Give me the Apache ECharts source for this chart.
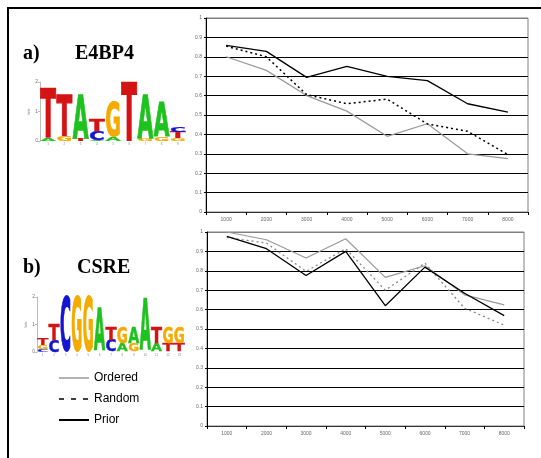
<!DOCTYPE html>
<html>
<head>
<meta charset="utf-8">
<script src="https://cdn.jsdelivr.net/npm/echarts@6/dist/echarts.min.js"></script>
<style>
  html, body { margin: 0; padding: 0; background: #fff; }
  #chart { width: 541px; height: 458px; }
</style>
</head>
<body>
<div id="chart"></div>
<script>
// x categories (library sizes)
const sizes = ['1000', '2000', '3000', '4000', '5000', '6000', '7000', '8000'];

// a) E4BP4
const e4bp4Ordered = [0.80, 0.73, 0.60, 0.52, 0.39, 0.455, 0.30, 0.275];
const e4bp4Random = [0.855, 0.80, 0.605, 0.558, 0.582, 0.454, 0.416, 0.296];
const e4bp4Prior = [0.859, 0.828, 0.694, 0.751, 0.699, 0.677, 0.558, 0.515];

// b) CSRE
const csreOrdered = [1.0, 0.96, 0.866, 0.965, 0.766, 0.826, 0.676, 0.624];
const csreRandom = [0.972, 0.943, 0.797, 0.914, 0.70, 0.84, 0.607, 0.52];
const csrePrior = [0.978, 0.914, 0.776, 0.90, 0.62, 0.819, 0.684, 0.569];

// sequence logos: [column, bottom bits, top bits, letter]
const e4bp4Cols = ['1', '2', '3', '4', '5', '6', '7', '8', '9'];
const e4bp4Logo = [
  [0, 0, 0.1, 'A'], [0, 0.1, 1.73, 'T'],
  [1, 0, 0.17, 'G'], [1, 0.17, 1.53, 'T'],
  [2, 0, 0.1, 'T'], [2, 0.1, 1.53, 'A'],
  [3, 0, 0.04, 'A'], [3, 0.04, 0.34, 'C'], [3, 0.34, 0.71, 'T'],
  [4, 0, 0.14, 'A'], [4, 0.14, 1.29, 'G'],
  [5, 0.02, 1.96, 'T'],
  [6, 0, 0.08, 'G'], [6, 0.08, 1.53, 'A'],
  [7, 0, 0.14, 'G'], [7, 0.14, 1.29, 'A'],
  [8, 0, 0.1, 'G'], [8, 0.1, 0.3, 'T'], [8, 0.3, 0.47, 'C']
];
const csreCols = ['1', '2', '3', '4', '5', '6', '7', '8', '9', '10', '11', '12', '13'];
const csreLogo = [
  [0, 0, 0.1, 'C'], [0, 0.1, 0.25, 'G'], [0, 0.25, 0.5, 'T'],
  [1, 0, 0.44, 'C'], [1, 0.44, 0.98, 'T'],
  [2, 0.03, 1.96, 'C'],
  [3, 0.03, 1.96, 'G'],
  [4, 0.04, 1.96, 'G'],
  [5, 0.07, 1.6, 'A'],
  [6, 0.04, 0.44, 'C'], [6, 0.44, 0.91, 'T'],
  [7, 0.04, 0.33, 'A'], [7, 0.33, 0.91, 'G'],
  [8, 0.04, 0.33, 'G'], [8, 0.33, 0.87, 'A'],
  [9, 0.08, 1.93, 'A'],
  [10, 0.04, 0.33, 'A'], [10, 0.33, 0.91, 'T'],
  [11, 0.04, 0.33, 'T'], [11, 0.33, 0.91, 'G'],
  [12, 0.04, 0.33, 'T'], [12, 0.33, 0.91, 'G']
];

const letterColor = { A: '#1ec21e', C: '#1414d2', G: '#f5aa00', T: '#d41414' };
// DejaVu Sans Bold advance widths (em)
const letterWidth = { A: 0.774, C: 0.734, G: 0.821, T: 0.682 };
const FS = 20;

function logoRender(logo) {
  return function (params, api) {
    const d = logo[params.dataIndex];
    const p0 = api.coord([d[0], d[1]]);
    const p1 = api.coord([d[0], d[2]]);
    const band = api.size([1, 0])[0];
    const h = p0[1] - p1[1];
    const sy = h / (0.729 * FS);
    return {
      type: 'text',
      x: p0[0],
      // cap centre sits a little above the text middle line
      y: (p0[1] + p1[1]) / 2 + 0.095 * FS * sy,
      scaleX: band * 0.97 / (letterWidth[d[3]] * FS),
      scaleY: sy,
      style: {
        text: d[3],
        font: 'bold ' + FS + 'px "DejaVu Sans"',
        align: 'center',
        verticalAlign: 'middle',
        fill: letterColor[d[3]],
        stroke: letterColor[d[3]],
        lineWidth: 0.5
      }
    };
  };
}

const gridLineColors = ['#000', '#000', '#000', '#000', '#000', '#000', '#000', '#000', '#000', '#000', '#808080'];

function chartX(gridIndex) {
  return {
    type: 'category', gridIndex: gridIndex, data: sizes, boundaryGap: true,
    axisLine: { lineStyle: { color: '#333', width: 1 } },
    axisTick: { show: true, length: 3, lineStyle: { color: '#000' } },
    axisLabel: { fontSize: 5, color: '#666', margin: 5, fontFamily: 'Liberation Sans' }
  };
}
function chartY(gridIndex) {
  return {
    type: 'value', gridIndex: gridIndex, min: 0, max: 1, interval: 0.1,
    axisLine: { show: true, lineStyle: { color: '#000', width: 1 } },
    axisTick: { show: true, length: 2, lineStyle: { color: '#000' } },
    axisLabel: { fontSize: 5, color: '#666', margin: 4, fontFamily: 'Liberation Sans' },
    splitLine: { show: true, lineStyle: { color: gridLineColors, width: 1 } }
  };
}
function logoX(gridIndex, cols) {
  return {
    type: 'category', gridIndex: gridIndex, data: cols, boundaryGap: true,
    axisLine: { show: false }, axisTick: { show: false },
    axisLabel: { fontSize: 3, color: '#888', margin: 2 }
  };
}
function logoY(gridIndex) {
  return {
    type: 'value', gridIndex: gridIndex, min: 0, max: 2, interval: 1,
    name: 'bits', nameLocation: 'middle', nameGap: 6,
    nameTextStyle: { fontSize: 4, color: '#777' },
    axisLine: { show: true, lineStyle: { color: '#bbb', width: 1 } },
    axisTick: { show: true, length: 2, lineStyle: { color: '#bbb' } },
    axisLabel: { fontSize: 5, color: '#777', margin: 2 },
    splitLine: { show: false }
  };
}

const titleFont = { fontFamily: 'Liberation Serif', fontWeight: 'bold', fontSize: 20, color: '#000' };

const chart = echarts.init(document.getElementById('chart'), null, { renderer: 'canvas' });

const option = {
  backgroundColor: '#fff',
  animation: false,
  title: [
    { text: 'a)', left: 23, top: 44, padding: 0, textStyle: titleFont },
    { text: 'E4BP4', left: 75, top: 44, padding: 0, textStyle: titleFont },
    { text: 'b)', left: 23, top: 258, padding: 0, textStyle: titleFont },
    { text: 'CSRE', left: 77, top: 258, padding: 0, textStyle: titleFont }
  ],
  legend: {
    orient: 'vertical', left: 58, top: 372, itemWidth: 30, itemHeight: 12, itemGap: 9, padding: 0,
    itemStyle: { opacity: 0 },
    textStyle: { fontSize: 12, color: '#000', fontFamily: 'Liberation Sans' },
    data: [
      { name: 'Ordered', lineStyle: { color: '#999', width: 1.5, type: 'solid' } },
      { name: 'Random', lineStyle: { color: '#000', width: 1.5, type: [5, 7] } },
      { name: 'Prior', lineStyle: { color: '#000', width: 2, type: 'solid' } }
    ]
  },
  graphic: [
    { type: 'rect', shape: { x: 8, y: 8, width: 700, height: 700 }, style: { fill: 'none', stroke: '#000', lineWidth: 2 }, silent: true }
  ],
  grid: [
    { left: 206, top: 18, width: 322, height: 194, show: true, borderColor: '#808080', borderWidth: 1 },
    { left: 207, top: 232, width: 317, height: 194, show: true, borderColor: '#808080', borderWidth: 1 },
    { left: 40, top: 82, width: 146, height: 59 },
    { left: 37, top: 297, width: 148, height: 55 }
  ],
  xAxis: [chartX(0), chartX(1), logoX(2, e4bp4Cols), logoX(3, csreCols)],
  yAxis: [chartY(0), chartY(1), logoY(2), logoY(3)],
  series: [
    { name: 'Ordered', type: 'line', xAxisIndex: 0, yAxisIndex: 0, data: e4bp4Ordered, symbol: 'none', lineStyle: { color: '#999', width: 1.2 }, itemStyle: { color: '#999' } },
    { name: 'Random', type: 'line', xAxisIndex: 0, yAxisIndex: 0, data: e4bp4Random, symbol: 'none', lineStyle: { color: '#000', width: 1.5, type: [2, 3] }, itemStyle: { color: '#000' } },
    { name: 'Prior', type: 'line', xAxisIndex: 0, yAxisIndex: 0, data: e4bp4Prior, symbol: 'none', lineStyle: { color: '#000', width: 1.3 }, itemStyle: { color: '#000' } },
    { name: 'Ordered', type: 'line', xAxisIndex: 1, yAxisIndex: 1, data: csreOrdered, symbol: 'none', lineStyle: { color: '#999', width: 1.2 }, itemStyle: { color: '#999' } },
    { name: 'Random', type: 'line', xAxisIndex: 1, yAxisIndex: 1, data: csreRandom, symbol: 'none', lineStyle: { color: '#888', width: 1.3, type: [2, 3] }, itemStyle: { color: '#888' } },
    { name: 'Prior', type: 'line', xAxisIndex: 1, yAxisIndex: 1, data: csrePrior, symbol: 'none', lineStyle: { color: '#000', width: 1.3 }, itemStyle: { color: '#000' } },
    { type: 'custom', xAxisIndex: 2, yAxisIndex: 2, data: e4bp4Logo.map(d => [d[0], d[1], d[2]]), renderItem: logoRender(e4bp4Logo), clip: false, silent: true },
    { type: 'custom', xAxisIndex: 3, yAxisIndex: 3, data: csreLogo.map(d => [d[0], d[1], d[2]]), renderItem: logoRender(csreLogo), clip: false, silent: true }
  ]
};

chart.setOption(option);
window.onresize = function () {
  chart.resize();
};
</script>
</body>
</html>
